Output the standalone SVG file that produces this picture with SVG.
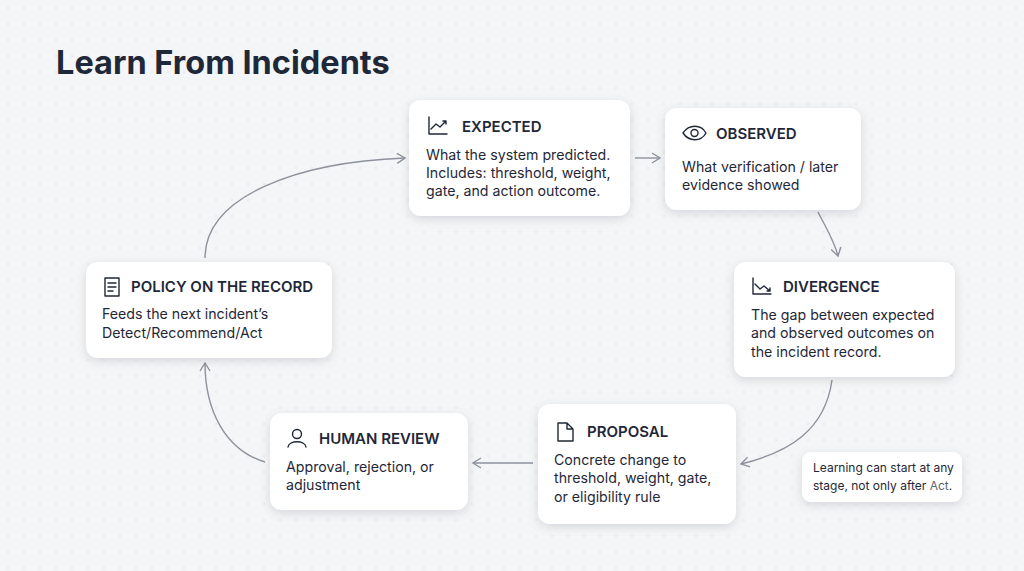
<svg xmlns="http://www.w3.org/2000/svg" width="1024" height="571" viewBox="0 0 1024 571">
<defs>
<pattern id="dots" width="16" height="16" patternUnits="userSpaceOnUse"><circle cx="8" cy="8" r="0.8" fill="#d8dbe0"/></pattern>
<filter id="sh" x="-20%" y="-20%" width="140%" height="150%"><feDropShadow dx="0" dy="3" stdDeviation="5" flood-color="#1b2333" flood-opacity="0.12"/></filter>
<marker id="ar" viewBox="0 0 12 12" refX="10" refY="6" markerWidth="12" markerHeight="12" markerUnits="userSpaceOnUse" orient="auto"><path d="M2,1 L10,6 L2,11" fill="none" stroke="#8d929c" stroke-width="1.4"/></marker>
</defs>
<style>
.box{fill:#fff;filter:url(#sh)}
.t{font-family:Inter,"Liberation Sans",sans-serif;font-size:15px;font-weight:600;fill:#1f2838}
.b{font-family:Inter,"Liberation Sans",sans-serif;font-size:14.2px;fill:#1f2838}
.n{font-family:Inter,"Liberation Sans",sans-serif;font-size:12px;fill:#1f2838}
.ic{fill:none;stroke:#1f2838;stroke-width:1.4;stroke-linecap:round;stroke-linejoin:round}
.c{fill:none;stroke:#8d929c;stroke-width:1.4;marker-end:url(#ar)}
</style>
<rect width="1024" height="571" fill="#f4f5f7"/>
<rect width="1024" height="571" fill="url(#dots)"/>
<text x="56" y="74" font-family="Inter,'Liberation Sans',sans-serif" font-size="32.5" font-weight="700" fill="#1f2838">Learn From Incidents</text>
<g id="connectors">
<path class="c" d="M205,258 C205,195 300,162 405,158"/>
<path class="c" d="M635,158 L660,158"/>
<path class="c" d="M818,212 C826,228 834,240 838,256"/>
<path class="c" d="M832,380 C825,430 790,452 741,464"/>
<path class="c" d="M533,463 L473,463"/>
<path class="c" d="M265,462 C225,450 205,410 205,363"/>
</g>
<g id="expected">
<rect class="box" x="409" y="100" width="221" height="116" rx="12"/>
<path class="ic" d="M429,117 V134 H447 M431,129 L436,124 L440,127 L446,121 M443,121 H446 V124"/>
<text class="t" x="462" y="132">EXPECTED</text>
<text class="b" x="426" y="160">What the system predicted.</text>
<text class="b" x="426" y="178">Includes: threshold, weight,</text>
<text class="b" x="426" y="196">gate, and action outcome.</text>
</g>
<g id="observed">
<rect class="box" x="665" y="108" width="196" height="102" rx="12"/>
<path class="ic" d="M683,133 C689,124 701,124 706,133 C701,142 689,142 683,133 Z"/>
<circle class="ic" cx="694.5" cy="133" r="3.5"/>
<text class="t" x="716" y="139">OBSERVED</text>
<text class="b" x="682" y="172">What verification / later</text>
<text class="b" x="682" y="190">evidence showed</text>
</g>
<g id="divergence">
<rect class="box" x="734" y="262" width="221" height="115" rx="12"/>
<path class="ic" d="M753,278 V294 H771 M755,284 L760,289 L764,286 L770,291 M767,291 H770 V288"/>
<text class="t" x="783" y="292">DIVERGENCE</text>
<text class="b" x="751" y="320">The gap between expected</text>
<text class="b" x="751" y="338">and observed outcomes on</text>
<text class="b" x="751" y="357">the incident record.</text>
</g>
<g id="proposal">
<rect class="box" x="538" y="404" width="198" height="120" rx="12"/>
<path class="ic" d="M558,423 H567 L573,429 V441 H558 Z M567,423 V429 H573"/>
<text class="t" x="587" y="437">PROPOSAL</text>
<text class="b" x="554" y="465">Concrete change to</text>
<text class="b" x="554" y="483">threshold, weight, gate,</text>
<text class="b" x="554" y="502">or eligibility rule</text>
</g>
<g id="human-review">
<rect class="box" x="270" y="413" width="198" height="97" rx="12"/>
<circle class="ic" cx="297" cy="434" r="4.5"/>
<path class="ic" d="M288,447 C289,440 305,440 306,447"/>
<text class="t" x="319" y="444">HUMAN REVIEW</text>
<text class="b" x="286" y="472">Approval, rejection, or</text>
<text class="b" x="286" y="490">adjustment</text>
</g>
<g id="policy">
<rect class="box" x="86" y="262" width="246" height="96" rx="12"/>
<path class="ic" d="M105,278 H119 V296 H105 Z M108,283 H116 M108,287 H116 M108,291 H113"/>
<text class="t" x="131" y="292">POLICY ON THE RECORD</text>
<text class="b" x="102" y="319">Feeds the next incident’s</text>
<text class="b" x="102" y="338">Detect/Recommend/Act</text>
</g>
<g id="note">
<rect class="box" x="802" y="452" width="160" height="50" rx="9"/>
<text class="n" x="813" y="472">Learning can start at any</text>
<text class="n" x="813" y="490">stage, not only after <tspan fill="#5b6474">Act</tspan>.</text>
</g>
</svg>
